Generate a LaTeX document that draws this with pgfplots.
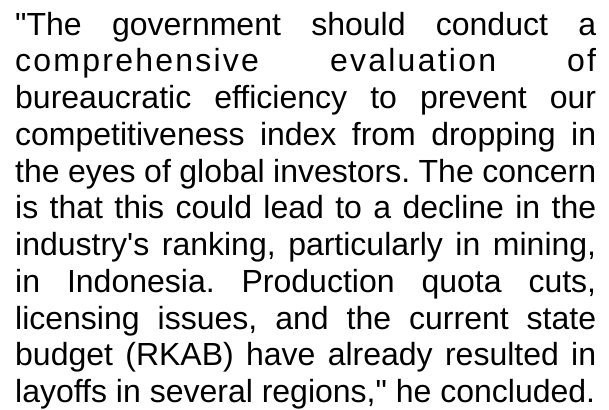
\documentclass[border=0pt]{standalone}
\usepackage{fontspec}
\setmainfont{Liberation Sans}
\newfontfamily\spacedfont{Liberation Sans}[LetterSpace=7]
\usepackage{pgfplots}
\pgfplotsset{compat=1.18}
\newcommand{\jl}[1]{\makebox[\linewidth][s]{#1}\\}
\begin{document}
\begin{tikzpicture}
\path[use as bounding box, fill=white] (0,0) rectangle (609pt,409pt);
\begin{axis}[
  at={(0,0)}, anchor=south west,
  scale only axis, width=609pt, height=409pt,
  xmin=0, xmax=609, ymin=0, ymax=409,
  hide axis, clip=false]
\node[anchor=base west, inner sep=0pt, text=black] at (axis cs:15,373.8) {%
\parbox[t]{581pt}{\frenchspacing\fontsize{32pt}{36.75pt}\selectfont
\jl{\textquotedbl The government should conduct a}
\jl{{\spacedfont comprehensive} \hfill {\spacedfont evaluation} \hfill {\spacedfont of}}
\jl{bureaucratic efficiency to prevent our}
\jl{competitiveness index from dropping in}
\jl{the eyes of global investors. The concern}
\jl{is that this could lead to a decline in the}
\jl{industry\textquotesingle s ranking, particularly in mining,}
\jl{in Indonesia. Production quota cuts,}
\jl{licensing issues, and the current state}
\jl{budget (RKAB) have already resulted in}
\makebox[\linewidth][l]{layoffs in several regions,\textquotedbl{} he concluded.}}};
\end{axis}
\end{tikzpicture}
\end{document}
